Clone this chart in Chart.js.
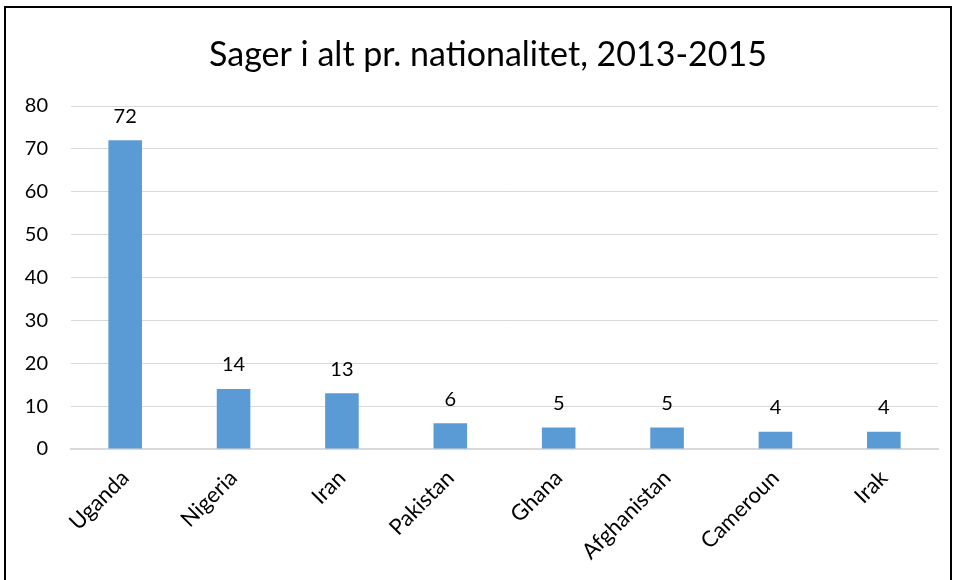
<!DOCTYPE html>
<html>
<head>
<meta charset="utf-8">
<script src="https://cdn.jsdelivr.net/npm/chart.js@4/dist/chart.umd.min.js"></script>
<style>
  body { margin: 0; background: #fff; }
  #wrap { position: relative; width: 955px; height: 580px; overflow: hidden; }
  #frame { position: absolute; left: 4px; top: 6px; width: 944px; height: 600px; border: 2px solid #000; pointer-events: none; }
  canvas { position: absolute; left: 0; top: 0; }
</style>
</head>
<body>
<div id="wrap">
  <canvas id="casesBarChart" width="955" height="580"></canvas>
  <div id="frame"></div>
</div>
<script>
var countries = ['Uganda', 'Nigeria', 'Iran', 'Pakistan', 'Ghana', 'Afghanistan', 'Cameroun', 'Irak'];
var cases = [72, 14, 13, 6, 5, 5, 4, 4];
var yTicks = [0, 10, 20, 30, 40, 50, 60, 70, 80];
var chartTitle = 'Sager i alt pr. nationalitet, 2013-2015';

var fontFamily = 'Lato, "Open Sans", sans-serif';

// title centred a bit right of the canvas middle, like the original frame
var titleText = {
    id: 'titleText',
    afterDraw: function(chart) {
        var ctx = chart.ctx;
        ctx.save();
        ctx.font = '34px ' + fontFamily;
        ctx.fillStyle = '#000';
        ctx.textAlign = 'center';
        ctx.textBaseline = 'middle';
        ctx.fillText(chartTitle, 488, 55);
        ctx.restore();
    }
};

// draws the value above each bar
var valueLabels = {
    id: 'valueLabels',
    afterDatasetsDraw: function(chart) {
        var ctx = chart.ctx;
        var meta = chart.getDatasetMeta(0);
        ctx.save();
        ctx.font = '20px ' + fontFamily;
        ctx.fillStyle = '#000';
        ctx.textAlign = 'center';
        ctx.textBaseline = 'middle';
        meta.data.forEach(function(bar, i) {
            ctx.fillText(cases[i], bar.x, bar.y - 24);
        });
        ctx.restore();
    }
};

var casesBarChart = document.getElementById('casesBarChart').getContext('2d');
var barChart = new Chart(casesBarChart, {
    type: 'bar',
    data: {
        labels: countries,
        datasets: [{
            label: 'Sager',
            data: cases,
            backgroundColor: '#5B9BD5',
            barPercentage: 0.62,
            categoryPercentage: 0.5
        }]
    },
    options: {
        responsive: false,
        animation: false,
        layout: {
            padding: { left: 0, right: 17, top: 106, bottom: 0 }
        },
        plugins: {
            legend: { display: false },
            tooltip: { enabled: false },
            title: { display: false }
        },
        scales: {
            x: {
                grid: { display: false },
                border: { color: '#d9d9d9', width: 2 },
                ticks: {
                    color: '#000',
                    font: { family: fontFamily, size: 22 },
                    minRotation: 45,
                    maxRotation: 45,
                    padding: 8
                },
                afterFit: function(scale) { scale.height = 131; }
            },
            y: {
                min: 0,
                max: 80,
                afterBuildTicks: function(scale) {
                    scale.ticks = yTicks.map(function(v) { return { value: v }; });
                },
                grid: { color: '#d9d9d9', lineWidth: 1, drawTicks: false },
                border: { display: false },
                ticks: {
                    color: '#000',
                    font: { family: fontFamily, size: 20 },
                    padding: 23
                },
                afterFit: function(scale) { scale.width = 71; }
            }
        }
    },
    plugins: [valueLabels, titleText]
});
</script>
</body>
</html>
